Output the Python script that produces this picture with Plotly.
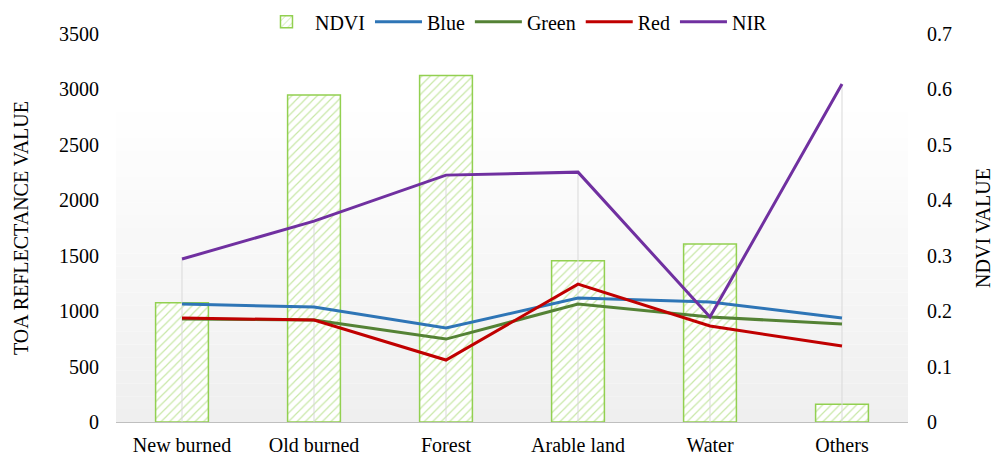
import plotly.graph_objects as go

categories = ["New burned", "Old burned", "Forest", "Arable land", "Water", "Others"]
ndvi = [0.215, 0.590, 0.625, 0.291, 0.321, 0.032]
blue = [1064, 1037, 848, 1118, 1082, 938]
green = [929, 920, 748, 1064, 947, 884]
red = [938, 920, 559, 1244, 866, 685]
nir = [1470, 1812, 2227, 2254, 947, 3048]

left_ticks = [0, 500, 1000, 1500, 2000, 2500, 3000, 3500]
right_ticks = [0, 0.1, 0.2, 0.3, 0.4, 0.5, 0.6, 0.7]
right_labels = ["0", "0.1", "0.2", "0.3", "0.4", "0.5", "0.6", "0.7"]

FONT = "Liberation Serif"
FS = 20
fig = go.Figure()

fig.add_trace(go.Bar(
    x=categories, y=ndvi, name="NDVI", yaxis="y", width=0.4,
    marker=dict(color="white", line=dict(color="#92D050", width=1.5),
                pattern=dict(shape="/", fgcolor="#92D050", bgcolor="white", size=6, solidity=0.2)),
))

# drop lines from the highest series point down to the axis
dx, dy = [], []
for i, c in enumerate(categories):
    top = max(blue[i], green[i], red[i], nir[i])
    dx += [c, c, None]
    dy += [0, top, None]
fig.add_trace(go.Scatter(x=dx, y=dy, mode="lines", yaxis="y2", showlegend=False,
                         line=dict(color="#D9D9D9", width=1), hoverinfo="skip"))

for name, vals, col in [("Blue", blue, "#2E75B6"), ("Green", green, "#548235"),
                        ("Red", red, "#C00000"), ("NIR", nir, "#7030A0")]:
    fig.add_trace(go.Scatter(x=categories, y=vals, name=name, mode="lines", yaxis="y2",
                             line=dict(color=col, width=3)))

# subtle vertical gradient background in the plot area
n = 30
shapes = []
for k in range(n):
    t = k / n
    g = int(round(239 + (255 - 239) * min(1, t * 1.25)))
    shapes.append(dict(type="rect", xref="paper", yref="paper", x0=0, x1=1,
                       y0=k / n, y1=(k + 1) / n, fillcolor=f"rgb({g},{g},{g})",
                       line=dict(width=0), layer="below"))

fig.update_layout(
    width=999, height=457,
    margin=dict(l=116, r=91, t=34, b=35, autoexpand=False),
    paper_bgcolor="white", plot_bgcolor="rgba(0,0,0,0)",
    font=dict(family=FONT, size=FS, color="black"),
    shapes=shapes,
    xaxis=dict(showgrid=False, showline=True, linecolor="#BFBFBF", linewidth=1,
               ticks="", ticklabelstandoff=5, tickfont=dict(size=FS, family=FONT)),
    yaxis=dict(side="right", range=[0, 0.7], tickvals=right_ticks, ticktext=right_labels,
               showgrid=False, zeroline=False, showline=False, ticks="",
               ticklabelstandoff=18, tickfont=dict(size=FS, family=FONT),
               title=dict(text="NDVI VALUE", font=dict(size=FS, family=FONT), standoff=24)),
    yaxis2=dict(side="left", overlaying="y", range=[0, 3500], tickvals=left_ticks,
                showgrid=False, zeroline=False, showline=False, ticks="",
                ticklabelstandoff=16, tickfont=dict(size=FS, family=FONT),
                title=dict(text="TOA REFLECTANCE VALUE", font=dict(size=FS, family=FONT), standoff=25)),
    legend=dict(orientation="h", x=0.516, xanchor="center", xref="container",
                y=0.995, yanchor="top", yref="container",
                font=dict(size=FS, family=FONT), bgcolor="rgba(0,0,0,0)",
                traceorder="normal", itemwidth=47),
)

fig.write_html("out.html", config={"displayModeBar": False},
               post_script="document.body.style.margin='0';")
